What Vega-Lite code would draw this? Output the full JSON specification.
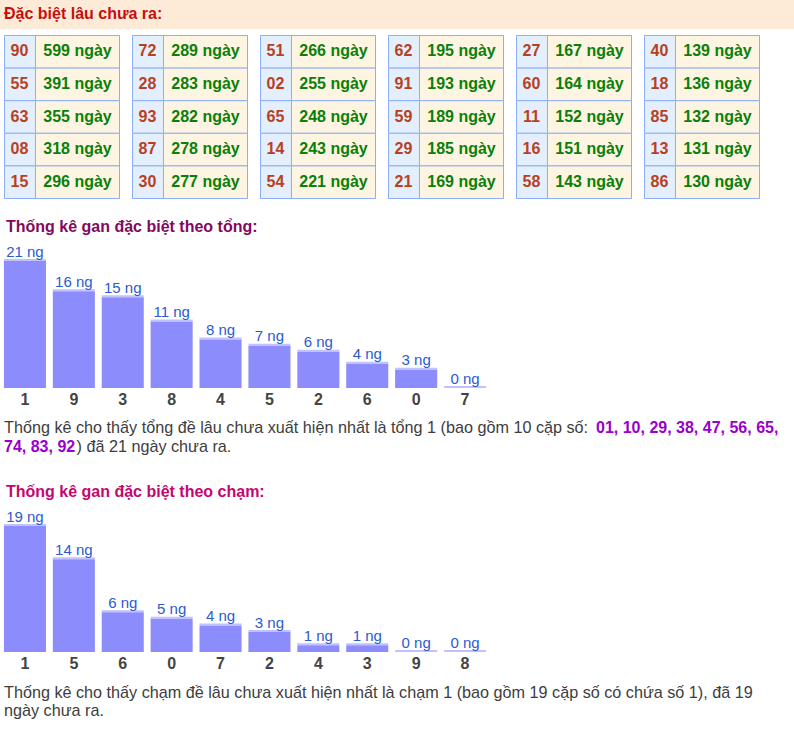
{
  "$schema": "https://vega.github.io/schema/vega-lite/v6.json",
  "padding": 0,
  "background": "white",
  "spacing": 0,
  "bounds": "flush",
  "config": {"view": {"stroke": null}, "font": "Liberation Sans"},
  "datasets": {
    "bang": [
      {"g": 1, "r": 1, "n": "90", "days": 599}, {"g": 1, "r": 2, "n": "55", "days": 391}, {"g": 1, "r": 3, "n": "63", "days": 355}, {"g": 1, "r": 4, "n": "08", "days": 318}, {"g": 1, "r": 5, "n": "15", "days": 296},
      {"g": 2, "r": 1, "n": "72", "days": 289}, {"g": 2, "r": 2, "n": "28", "days": 283}, {"g": 2, "r": 3, "n": "93", "days": 282}, {"g": 2, "r": 4, "n": "87", "days": 278}, {"g": 2, "r": 5, "n": "30", "days": 277},
      {"g": 3, "r": 1, "n": "51", "days": 266}, {"g": 3, "r": 2, "n": "02", "days": 255}, {"g": 3, "r": 3, "n": "65", "days": 248}, {"g": 3, "r": 4, "n": "14", "days": 243}, {"g": 3, "r": 5, "n": "54", "days": 221},
      {"g": 4, "r": 1, "n": "62", "days": 195}, {"g": 4, "r": 2, "n": "91", "days": 193}, {"g": 4, "r": 3, "n": "59", "days": 189}, {"g": 4, "r": 4, "n": "29", "days": 185}, {"g": 4, "r": 5, "n": "21", "days": 169},
      {"g": 5, "r": 1, "n": "27", "days": 167}, {"g": 5, "r": 2, "n": "60", "days": 164}, {"g": 5, "r": 3, "n": "11", "days": 152}, {"g": 5, "r": 4, "n": "16", "days": 151}, {"g": 5, "r": 5, "n": "58", "days": 143},
      {"g": 6, "r": 1, "n": "40", "days": 139}, {"g": 6, "r": 2, "n": "18", "days": 136}, {"g": 6, "r": 3, "n": "85", "days": 132}, {"g": 6, "r": 4, "n": "13", "days": 131}, {"g": 6, "r": 5, "n": "86", "days": 130}
    ],
    "tong": [
      {"k": "1", "v": 21}, {"k": "9", "v": 16}, {"k": "3", "v": 15}, {"k": "8", "v": 11}, {"k": "4", "v": 8},
      {"k": "5", "v": 7}, {"k": "2", "v": 6}, {"k": "6", "v": 4}, {"k": "0", "v": 3}, {"k": "7", "v": 0}
    ],
    "cham": [
      {"k": "1", "v": 19}, {"k": "5", "v": 14}, {"k": "6", "v": 6}, {"k": "0", "v": 5}, {"k": "7", "v": 4},
      {"k": "2", "v": 3}, {"k": "4", "v": 1}, {"k": "3", "v": 1}, {"k": "9", "v": 0}, {"k": "8", "v": 0}
    ]
  },
  "vconcat": [
    {
      "width": 794, "height": 29,
      "layer": [
        {"data": {"values": [{}]}, "mark": {"type": "rect", "color": "#fdebd8"}, "encoding": {}},
        {"data": {"values": [{"t": "Đặc biệt lâu chưa ra:"}]},
         "mark": {"type": "text", "align": "left", "baseline": "alphabetic", "fontSize": 16, "fontWeight": "bold", "color": "#c70e0e"},
         "encoding": {"text": {"field": "t"}, "x": {"value": 4}, "y": {"value": 19}}}
      ]
    },
    {"width": 794, "height": 6, "data": {"values": []}, "mark": "rect"},
    {
      "width": 764, "height": 163,
      "data": {"name": "bang"},
      "encoding": {
        "x": {"field": "g", "type": "ordinal", "axis": null, "scale": {"paddingInner": 0.09375, "paddingOuter": 0.03125}},
        "y": {"field": "r", "type": "ordinal", "axis": null, "scale": {"paddingInner": 0, "paddingOuter": 0}}
      },
      "layer": [
        {"mark": {"type": "rect", "width": 31, "xOffset": -42, "yOffset": 0.5, "fill": "#e3effd", "stroke": "#8daff7", "strokeWidth": 1}},
        {"mark": {"type": "rect", "width": 84, "xOffset": 15.5, "yOffset": 0.5, "fill": "#fef4e2", "stroke": "#8daff7", "strokeWidth": 1}},
        {"mark": {"type": "text", "xOffset": -42.5, "color": "#b8401c", "fontSize": 16, "fontWeight": "bold"}, "encoding": {"text": {"field": "n"}}},
        {"mark": {"type": "text", "xOffset": 15.5, "color": "#0a7f0a", "fontSize": 16, "fontWeight": "bold", "text": {"expr": "datum.days + ' ngày'"}}}
      ]
    },
    {
      "width": 794, "height": 63,
      "data": {"values": [{"t": "Thống kê gan đặc biệt theo tổng:"}]},
      "mark": {"type": "text", "align": "left", "baseline": "alphabetic", "fontSize": 16, "fontWeight": "bold", "color": "#7f0a5e"},
      "encoding": {"text": {"field": "t"}, "x": {"value": 6}, "y": {"value": 34}}
    },
    {
      "width": 490, "height": 127,
      "data": {"name": "tong"},
      "encoding": {
        "x": {"field": "k", "type": "nominal", "sort": null, "scale": {"paddingInner": 0.14, "paddingOuter": 0.08},
              "axis": {"title": null, "labelAngle": 0, "domain": false, "ticks": false, "tickSize": 0, "labelFontSize": 16, "labelFontWeight": "bold", "labelColor": "#444444", "labelPadding": 3}},
        "y": {"field": "v", "type": "quantitative", "axis": null, "scale": {"nice": false, "zero": true}}
      },
      "layer": [
        {"mark": {"type": "bar", "color": "#8c8cfc"}},
        {"mark": {"type": "tick", "color": "#a6a6fe", "thickness": 2, "size": 42, "yOffset": -1, "orient": "horizontal"}},
        {"mark": {"type": "text", "color": "#2a5bd0", "fontSize": 15, "baseline": "alphabetic", "dy": -4.5, "text": {"expr": "datum.v + ' ng'"}}}
      ]
    },
    {
      "width": 794, "height": 138,
      "layer": [
        {"data": {"values": [{"t": "Thống kê cho thấy tổng đề lâu chưa xuất hiện nhất là tổng 1 (bao gồm 10 cặp số: "}]},
         "mark": {"type": "text", "align": "left", "baseline": "alphabetic", "fontSize": 16.2, "color": "#3d3d3d"},
         "encoding": {"text": {"field": "t"}, "x": {"value": 4}, "y": {"value": 45}}},
        {"data": {"values": [{"t": "01, 10, 29, 38, 47, 56, 65,"}]},
         "mark": {"type": "text", "align": "left", "baseline": "alphabetic", "fontSize": 16, "fontWeight": "bold", "color": "#9a00cc"},
         "encoding": {"text": {"field": "t"}, "x": {"value": 596}, "y": {"value": 45}}},
        {"data": {"values": [{"t": "74, 83, 92"}]},
         "mark": {"type": "text", "align": "left", "baseline": "alphabetic", "fontSize": 16, "fontWeight": "bold", "color": "#9a00cc"},
         "encoding": {"text": {"field": "t"}, "x": {"value": 4}, "y": {"value": 64}}},
        {"data": {"values": [{"t": ") đã 21 ngày chưa ra."}]},
         "mark": {"type": "text", "align": "left", "baseline": "alphabetic", "fontSize": 16.2, "color": "#3d3d3d"},
         "encoding": {"text": {"field": "t"}, "x": {"value": 76.5}, "y": {"value": 64}}},
        {"data": {"values": [{"t": "Thống kê gan đặc biệt theo chạm:"}]},
         "mark": {"type": "text", "align": "left", "baseline": "alphabetic", "fontSize": 16, "fontWeight": "bold", "color": "#c4076e"},
         "encoding": {"text": {"field": "t"}, "x": {"value": 6}, "y": {"value": 108.5}}}
      ]
    },
    {
      "width": 490, "height": 126,
      "data": {"name": "cham"},
      "encoding": {
        "x": {"field": "k", "type": "nominal", "sort": null, "scale": {"paddingInner": 0.14, "paddingOuter": 0.08},
              "axis": {"title": null, "labelAngle": 0, "domain": false, "ticks": false, "tickSize": 0, "labelFontSize": 16, "labelFontWeight": "bold", "labelColor": "#444444", "labelPadding": 3}},
        "y": {"field": "v", "type": "quantitative", "axis": null, "scale": {"nice": false, "zero": true}}
      },
      "layer": [
        {"mark": {"type": "bar", "color": "#8c8cfc"}},
        {"mark": {"type": "tick", "color": "#a6a6fe", "thickness": 2, "size": 42, "yOffset": -1, "orient": "horizontal"}},
        {"mark": {"type": "text", "color": "#2a5bd0", "fontSize": 15, "baseline": "alphabetic", "dy": -4.5, "text": {"expr": "datum.v + ' ng'"}}}
      ]
    },
    {
      "width": 794, "height": 77,
      "data": {"values": [{"t": ["Thống kê cho thấy chạm đề lâu chưa xuất hiện nhất là chạm 1 (bao gồm 19 cặp số có chứa số 1), đã 19", "ngày chưa ra."]}]},
      "mark": {"type": "text", "align": "left", "baseline": "alphabetic", "fontSize": 16.2, "lineHeight": 18, "color": "#3d3d3d"},
      "encoding": {"text": {"field": "t"}, "x": {"value": 4}, "y": {"value": 46}}
    }
  ]
}
